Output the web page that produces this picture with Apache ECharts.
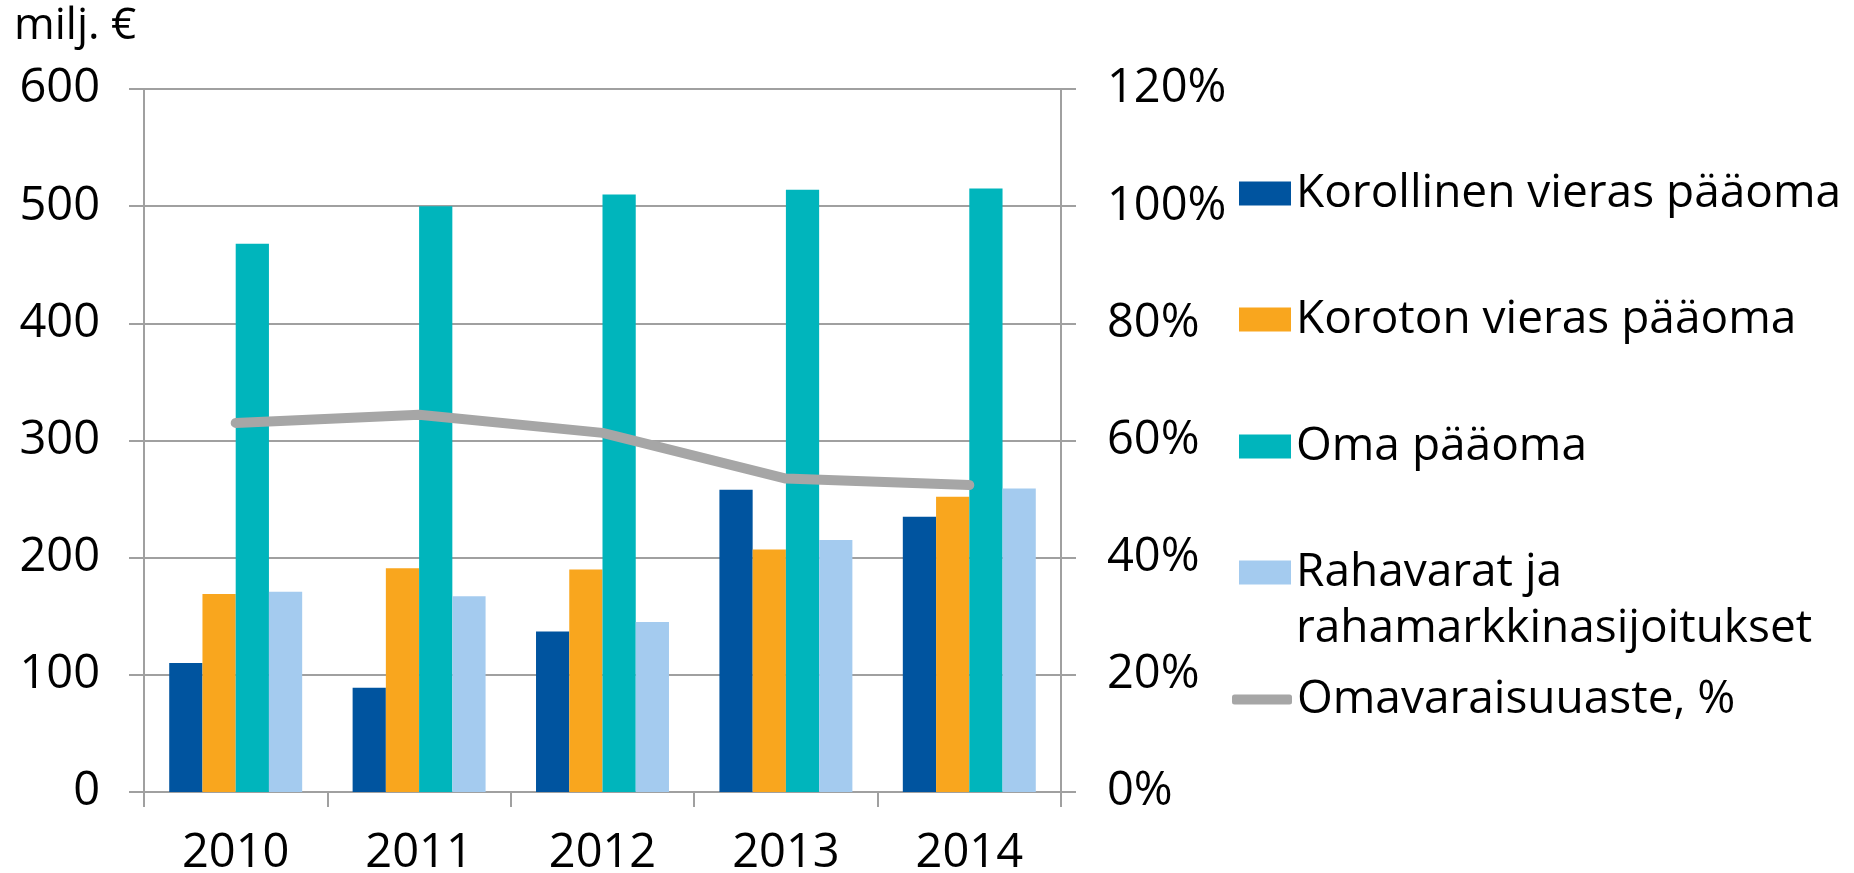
<!DOCTYPE html>
<html>
<head>
<meta charset="utf-8">
<script src="https://cdn.jsdelivr.net/npm/echarts@6/dist/echarts.min.js"></script>
<style>
html,body{margin:0;padding:0;background:#fff;}
#c{width:1854px;height:873px;}
</style>
</head>
<body>
<div id="c"></div>
<script>
const years = ['2010', '2011', '2012', '2013', '2014'];
const korollinen = [110, 89, 137, 258, 235];
const koroton = [169, 191, 190, 207, 252];
const omaPaaoma = [468, 500, 510, 514, 515];
const rahavarat = [171, 167, 145, 215, 259];
const omavaraisuusaste = [63.0, 64.4, 61.3, 53.5, 52.4];
const leftTicks = [0, 600, 100];
const rightTicks = [0, 120, 20];

const names = ['Korollinen vieras pääoma', 'Koroton vieras pääoma', 'Oma pääoma', 'Rahavarat ja rahamarkkinasijoitukset', 'Omavaraisuuaste, %'];
const colors = ['#00549F', '#F9A61E', '#00B5BC', '#A4CBEF', '#A6A6A6'];
const FONT = 'Open Sans';
const gridColor = '#A0A0A0';

const chart = echarts.init(document.getElementById('c'), null, {renderer: 'canvas'});

const LH = 56;
const legTxt = {fontFamily: FONT, fontSize: 46, color: '#000', lineHeight: LH, padding: [5, 0, 0, 0]};
function barLegend(i, cy) {
  return {
    data: [names[i]], orient: 'vertical', left: 1239, top: cy - LH / 2, padding: 0,
    itemWidth: 52, itemHeight: 24, icon: 'rect', textStyle: legTxt, selectedMode: false
  };
}
const legends = [
  barLegend(0, 191),
  barLegend(1, 317),
  barLegend(2, 444),
  {
    data: [names[3]], orient: 'vertical', left: 1239, top: 570 - LH * 1.5, padding: 0,
    itemWidth: 52, itemHeight: 24, icon: 'rect', textStyle: legTxt, selectedMode: false,
    formatter: function () { return '\nRahavarat ja\nrahamarkkinasijoitukset'; }
  },
  {
    data: [names[4]], orient: 'vertical', left: 1232, top: 697 - LH / 2, padding: 0,
    itemWidth: 60, itemHeight: 10, icon: 'roundRect', textStyle: legTxt, selectedMode: false
  }
];

function barSeries(i, data) {
  return {
    name: names[i], type: 'bar', data: data, yAxisIndex: 0,
    barGap: 0, barCategoryGap: '27.5%',
    itemStyle: {color: colors[i]}, emphasis: {disabled: true}, z: 2
  };
}

const yLabel = {fontFamily: FONT, fontSize: 47, color: '#000', padding: [5, 0, 0, 0]};

chart.setOption({
  animation: false,
  backgroundColor: '#fff',
  title: {
    text: 'milj. €', left: 14, top: 4, padding: 0,
    textStyle: {fontFamily: FONT, fontSize: 44, fontWeight: 'normal', color: '#000'}
  },
  legend: legends,
  grid: {left: 144, right: 793, top: 89, bottom: 81, containLabel: false, outerBoundsMode: 'none'},
  xAxis: {
    type: 'category', data: years,
    axisLine: {show: true, lineStyle: {color: gridColor, width: 2}},
    axisTick: {show: true, length: 15, lineStyle: {color: gridColor, width: 2}},
    axisLabel: {fontFamily: FONT, fontSize: 47, color: '#000', margin: 38},
    splitLine: {show: false}
  },
  yAxis: [
    {
      type: 'value', min: leftTicks[0], max: leftTicks[1], interval: leftTicks[2], position: 'left',
      axisLine: {show: true, lineStyle: {color: gridColor, width: 2}},
      axisTick: {show: true, length: 15, lineStyle: {color: gridColor, width: 2}},
      axisLabel: Object.assign({margin: 44}, yLabel),
      splitLine: {show: true, lineStyle: {color: gridColor, width: 2}}
    },
    {
      type: 'value', min: rightTicks[0], max: rightTicks[1], interval: rightTicks[2], position: 'right',
      axisLine: {show: true, lineStyle: {color: gridColor, width: 2}},
      axisTick: {show: true, length: 15, lineStyle: {color: gridColor, width: 2}},
      axisLabel: Object.assign({margin: 46, formatter: '{value}%'}, yLabel),
      splitLine: {show: false}
    }
  ],
  series: [
    barSeries(0, korollinen),
    barSeries(1, koroton),
    barSeries(2, omaPaaoma),
    barSeries(3, rahavarat),
    {
      name: names[4], type: 'line', data: omavaraisuusaste, yAxisIndex: 1,
      showSymbol: false, symbol: 'none', z: 5,
      itemStyle: {color: colors[4]},
      lineStyle: {color: colors[4], width: 10, cap: 'round', join: 'round'},
      emphasis: {disabled: true}
    }
  ]
});
</script>
</body>
</html>
